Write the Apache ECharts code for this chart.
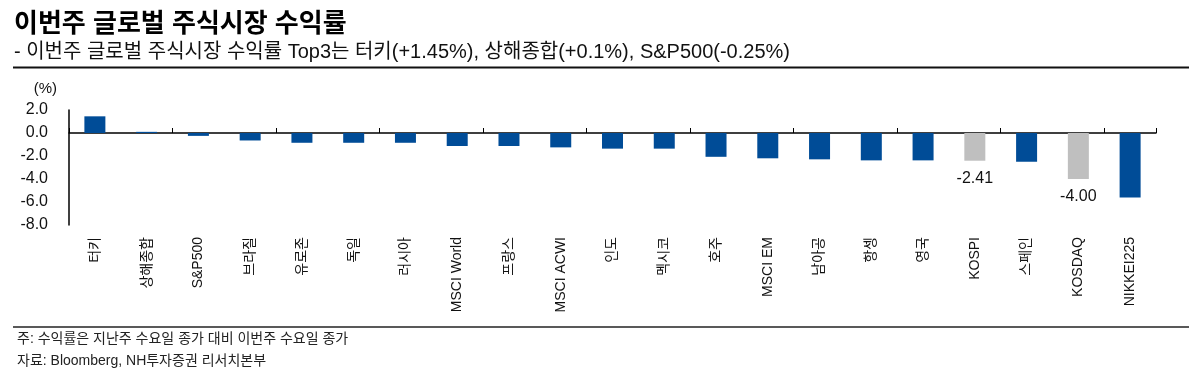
<!DOCTYPE html>
<html>
<head>
<meta charset="utf-8">
<script src="https://cdn.jsdelivr.net/npm/echarts@6/dist/echarts.min.js"></script>
<style>
  html, body { margin: 0; padding: 0; background: #fff; }
  #chart { width: 1198px; height: 376px; }
</style>
</head>
<body>
<div id="chart"></div>
<script>
// 시장 이름
var categories = ['터키', '상해종합', 'S&P500', '브라질', '유로존', '독일', '러시아', 'MSCI World', '프랑스', 'MSCI ACWI',
  '인도', '멕시코', '호주', 'MSCI EM', '남아공', '항셍', '영국', 'KOSPI', '스페인', 'KOSDAQ', 'NIKKEI225'];
// 주간 수익률 (%)
var returns = [1.45, 0.1, -0.25, -0.65, -0.85, -0.85, -0.85, -1.13, -1.13, -1.25,
  -1.36, -1.36, -2.07, -2.2, -2.29, -2.38, -2.38, -2.41, -2.5, -4.0, -5.6];
// 회색 강조 + 값 표시
var highlighted = ['KOSPI', 'KOSDAQ'];
var yTicks = [-8, -6, -4, -2, 0, 2];

var FONT = '"Liberation Sans", Arial, "Noto Sans CJK KR", sans-serif';

var barData = returns.map(function (v, i) {
  var hi = highlighted.indexOf(categories[i]) >= 0;
  return {
    value: v,
    itemStyle: { color: hi ? '#bfbfbf' : '#004c97' },
    label: {
      show: hi,
      position: 'bottom',
      distance: 10,
      formatter: function (p) { return p.value.toFixed(2); },
      fontSize: 16,
      color: '#111',
      fontFamily: FONT
    }
  };
});

var myChart = echarts.init(document.getElementById('chart'));
myChart.setOption({
  animation: false,
  title: {
    left: 9,
    top: 5,
    text: '이번주 글로벌 주식시장 수익률',
    subtext: '- 이번주 글로벌 주식시장 수익률 Top3는 터키(+1.45%), 상해종합(+0.1%), S&P500(-0.25%)',
    itemGap: 1,
    textStyle: { fontSize: 26, fontWeight: 'bold', color: '#000', fontFamily: FONT, lineHeight: 29 },
    subtextStyle: { fontSize: 20, color: '#111', fontFamily: FONT, lineHeight: 24 }
  },
  grid: { left: 69, right: 42, top: 110, bottom: 151 },
  xAxis: [
    {
      type: 'category',
      data: categories,
      position: 'bottom',
      axisLine: { onZero: true, lineStyle: { color: '#000', width: 1.5 } },
      axisTick: { show: true, inside: true, length: 5, lineStyle: { color: '#000' } },
      axisLabel: { show: false }
    },
    {
      type: 'category',
      data: categories,
      position: 'bottom',
      axisLine: { show: false, onZero: false },
      axisTick: { show: false },
      axisLabel: {
        rotate: 90,
        margin: 12,
        interval: 0,
        fontSize: 14,
        color: '#111',
        fontFamily: FONT
      }
    }
  ],
  yAxis: {
    type: 'value',
    min: yTicks[0],
    max: yTicks[yTicks.length - 1],
    interval: 2,
    name: '(%)',
    nameLocation: 'end',
    nameGap: 14,
    nameTextStyle: { fontSize: 15, color: '#111', fontFamily: FONT, align: 'right', padding: [0, 12, 0, 0] },
    axisLine: { show: true, lineStyle: { color: '#000', width: 1.5 } },
    axisTick: { show: false },
    splitLine: { show: false },
    axisLabel: {
      margin: 21,
      fontSize: 16,
      color: '#111',
      fontFamily: FONT,
      formatter: function (v) { return v.toFixed(1); }
    }
  },
  series: [{
    type: 'bar',
    xAxisIndex: 0,
    barWidth: 21,
    data: barData
  }],
  graphic: [
    { type: 'line', shape: { x1: 13, y1: 67.5, x2: 1189, y2: 67.5 }, style: { stroke: '#111', lineWidth: 2 } },
    { type: 'line', shape: { x1: 13, y1: 327, x2: 1189, y2: 327 }, style: { stroke: '#222', lineWidth: 1.5 } },
    { type: 'text', left: 17, top: 332, style: { text: '주: 수익률은 지난주 수요일 종가 대비 이번주 수요일 종가', fontSize: 14, fill: '#222', fontFamily: FONT } },
    { type: 'text', left: 17, top: 354, style: { text: '자료: Bloomberg, NH투자증권 리서치본부', fontSize: 14, fill: '#222', fontFamily: FONT } }
  ]
});
</script>
</body>
</html>
